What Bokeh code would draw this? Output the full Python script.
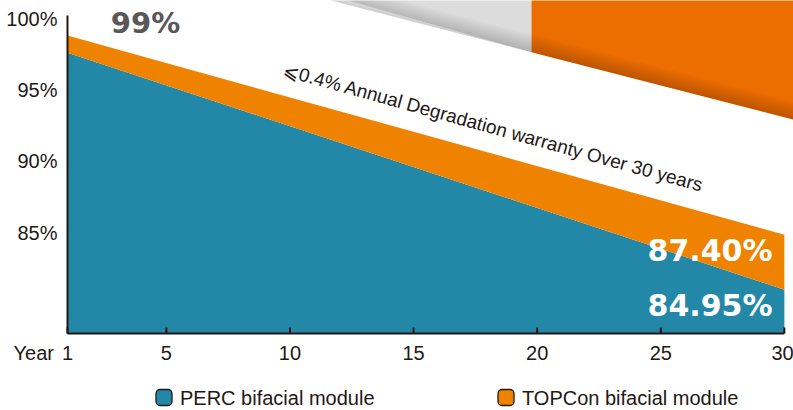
from bokeh.plotting import figure
from bokeh.models import Range1d
from bokeh.core.properties import value
from bokeh.embed import file_html
from bokeh.resources import INLINE

# ---- data ----
years = [1, 30]
perc = [97.6, 81.0]
topcon = [98.8, 84.85]
x_ticks = [1, 5, 10, 15, 20, 25, 30]
y_ticks = [85, 90, 95, 100]
series_names = ["PERC bifacial module", "TOPCon bifacial module"]
start_label = "99%"
topcon_end_label = "87.40%"
perc_end_label = "84.95%"
note = "\u2a7d0.4% Annual Degradation warranty Over 30 years"
x_title = "Year"

# ---- layout (pixel scale of the reference) ----
W, H = 793, 410
PX_YEAR1, PX_PER_YEAR = 67, 24.72
PX_100, PX_PER_PCT = 18, 14.27


def xv(px):
    return 1 + (px - PX_YEAR1) / PX_PER_YEAR


def yv(py):
    return 100 - (py - PX_100) / PX_PER_PCT


def dx(px):
    return px / PX_PER_YEAR


def dy(px):
    return px / PX_PER_PCT


TEAL = "#2387A7"
ORANGE = "#EF8300"
DARK = "#231815"
FONT = "Liberation Sans"
Y_AXIS = yv(333)

p = figure(width=W, height=H, x_range=Range1d(xv(0), xv(W)),
           y_range=Range1d(yv(H), yv(0)),
           x_axis_type=None, y_axis_type=None,
           output_backend="svg", toolbar_location=None,
           min_border=0, min_border_left=0, min_border_right=0,
           min_border_top=0, min_border_bottom=0)
p.grid.visible = False
p.outline_line_color = None
p.background_fill_color = "white"
p.border_fill_color = "white"

# ---- decorative band (top right) ----
bx0, by0, bx1, by1, bsplit = 330, 0, 800, 121, 531
def band_line_px(px):
    return by0 + (by1 - by0) * (px - bx0) / (bx1 - bx0)

top = yv(-5)
p.patch(x=[xv(bx0), xv(bsplit), xv(bsplit)], y=[top, top, yv(band_line_px(bsplit))],
        fill_color="#DCDCDC", line_color=None)
p.patch(x=[xv(bsplit), xv(bx1), xv(bx1), xv(bsplit)],
        y=[top, top, yv(band_line_px(bx1)), yv(band_line_px(bsplit))],
        fill_color="#EC6D00", line_color=None)
s_xs, s_ys = [], []
for k in range(1, 9):
    d = 2.2 * k
    s_xs.append([xv(bx0), xv(bx1), xv(bx1), xv(bx0)])
    s_ys.append([yv(by0) + dy(d), yv(by1) + dy(d), yv(by1), yv(by0)])
p.patches(xs=s_xs, ys=s_ys, fill_color="black", fill_alpha=0.022, line_color=None)

# ---- areas ----
p.varea(x=years, y1=Y_AXIS, y2=perc, fill_color=TEAL)
p.varea(x=years, y1=perc, y2=topcon, fill_color=ORANGE)

# ---- axes ----
p.segment(x0=[1, 1], y0=[Y_AXIS, Y_AXIS], x1=[1, x_ticks[-1]], y1=[yv(15), Y_AXIS],
          line_color=DARK, line_width=2)
p.segment(x0=x_ticks, y0=[Y_AXIS] * len(x_ticks), x1=x_ticks,
          y1=[Y_AXIS + dy(6)] * len(x_ticks), line_color=DARK, line_width=2)
label_x = [min(t, xv(W - 11)) for t in x_ticks]
p.text(x=label_x, y=[Y_AXIS - dy(19)] * len(x_ticks), text=[str(t) for t in x_ticks],
       text_font=value(FONT), text_font_size="20px", text_color=DARK,
       text_align="center", text_baseline="middle")
p.text(x=[1 - dx(10)] * len(y_ticks), y=y_ticks, text=["%d%%" % t for t in y_ticks],
       text_font=value(FONT), text_font_size="20px", text_color=DARK,
       text_align="right", text_baseline="middle")
p.text(x=[xv(13)], y=[Y_AXIS - dy(19)], text=[x_title],
       text_font=value(FONT), text_font_size="20px", text_color=DARK,
       text_align="left", text_baseline="middle")

# ---- texts ----
p.text(x=[xv(145)], y=[yv(22)], text=[start_label], text_font=value("DejaVu Sans"),
       text_font_style="bold", text_font_size="29px", text_color="#595757",
       text_align="center", text_baseline="middle")
p.text(x=[xv(772), xv(772)], y=[yv(250), yv(305)], text=[topcon_end_label, perc_end_label],
       text_font=value("DejaVu Sans"), text_font_style="bold", text_font_size="30px",
       text_color="white", text_align="right", text_baseline="middle")
p.text(x=[xv(493)], y=[yv(127)], text=[note], angle=-15.5, angle_units="deg",
       text_font=value(FONT), text_font_size="19px", text_color=DARK,
       text_align="center", text_baseline="middle")

# ---- legend ----
leg_cx = [xv(163.5), xv(505.5)]
leg_cy = yv(397)
half_w, half_h = dx(8), dy(8)
p.quad(left=[c - half_w for c in leg_cx], right=[c + half_w for c in leg_cx],
       bottom=[leg_cy - half_h] * 2, top=[leg_cy + half_h] * 2,
       fill_color=[TEAL, ORANGE], line_color=DARK, line_width=1.3, border_radius=4)
p.text(x=[c + dx(16) for c in leg_cx], y=[leg_cy] * 2, text=series_names,
       text_font=value(FONT), text_font_size="20px", text_color=DARK,
       text_align="left", text_baseline="middle")

open("out.html", "w").write(file_html(p, INLINE))
